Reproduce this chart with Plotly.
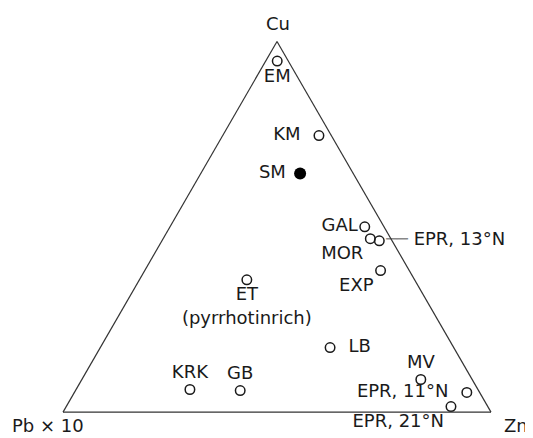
import plotly.graph_objects as go

# ternary composition (%), a = Cu, b = Pb x 10, c = Zn
names = ["EM", "KM", "GAL", "MOR", "EPR, 13°N", "EXP", "ET<br>(pyrrhotinrich)",
         "LB", "MV", "EPR, 11°N", "EPR, 21°N", "KRK", "GB"]
cu = [94.7, 74.6, 50.0, 46.8, 46.2, 38.2, 35.7, 17.4, 8.8, 5.3, 1.5, 6.1, 5.8]
pb10 = [2.6, 2.9, 4.5, 4.8, 3.0, 6.7, 39.2, 28.9, 12.0, 3.0, 8.6, 67.3, 55.7]
zn = [2.7, 22.5, 45.5, 48.4, 50.8, 55.1, 25.1, 53.7, 79.2, 91.7, 89.9, 26.6, 38.5]

sm_name = ["SM"]
sm_cu = [64.4]
sm_pb10 = [12.4]
sm_zn = [23.2]

label_pos = ["bottom center", "middle left", "middle left", "bottom left", "middle right",
             "bottom left", "bottom center", "middle right", "top center", "middle left",
             "bottom left", "top center", "top center"]

NB = "\u00a0"
pad_left = {"KM", "EPR, 11°N"}
pad_right = {"LB"}


def label(n):
    if n == "EPR, 13°N":
        # leader line in front of the label
        return "<span style='color:#888888'>──</span>" + NB + n
    if n in pad_left:
        return n + NB + NB
    if n in pad_right:
        return NB + NB + n
    return n


texts = [label(n) for n in names]

font = dict(family="DejaVu Sans, sans-serif", size=18, color="#1a1a1a")

fig = go.Figure()
fig.add_trace(go.Scatterternary(
    a=cu, b=pb10, c=zn,
    mode="markers+text",
    text=texts,
    textposition=label_pos,
    textfont=font,
    marker=dict(symbol="circle-open", size=9.5, color="#1a1a1a", line=dict(width=1.5)),
    hoverinfo="skip",
    cliponaxis=False,
))
fig.add_trace(go.Scatterternary(
    a=sm_cu, b=sm_pb10, c=sm_zn,
    mode="markers+text",
    text=[n + NB for n in sm_name],
    textposition="middle left",
    textfont=font,
    marker=dict(symbol="circle", size=12, color="black"),
    hoverinfo="skip",
    cliponaxis=False,
))

axis = dict(showticklabels=False, ticks="", showgrid=False, title=dict(text=""),
            linecolor="#333333", linewidth=1.2, showline=True)

fig.update_layout(
    width=525, height=430,
    margin=dict(l=0, r=0, t=0, b=0),
    paper_bgcolor="white",
    showlegend=False,
    ternary=dict(
        sum=100,
        bgcolor="white",
        domain=dict(x=[0.1048, 0.9200], y=[0.0512, 0.9312]),
        aaxis=axis, baxis=axis, caxis=axis,
    ),
    annotations=[
        dict(text="Cu", x=0.5143, y=0.9651, xref="paper", yref="paper",
             showarrow=False, font=font, xanchor="center", yanchor="middle"),
        dict(text="Pb × 10", x=0.0762, y=0.0, xref="paper", yref="paper",
             showarrow=False, font=font, xanchor="center", yanchor="bottom"),
        dict(text="Zn", x=0.9676, y=0.0, xref="paper", yref="paper",
             showarrow=False, font=font, xanchor="center", yanchor="bottom"),
    ],
)

fig.write_html("out.html")
